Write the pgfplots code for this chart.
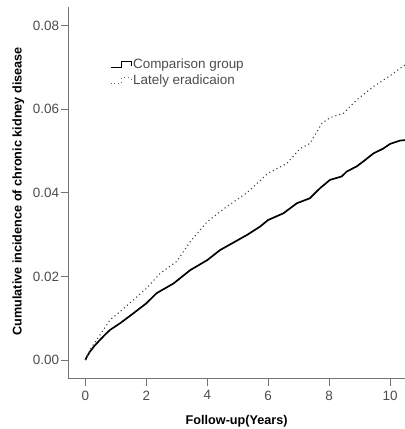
\documentclass[border=0pt]{standalone}
\usepackage{fontspec}
\setmainfont{Liberation Sans}
\usepackage{pgfplots}
\pgfplotsset{compat=1.18}
\definecolor{axgray}{gray}{0.45}
\definecolor{txtgray}{gray}{0.3}
\begin{document}
\begin{tikzpicture}
\useasboundingbox (-68.3bp,-51bp) rectangle (336.7bp,378bp);
\begin{axis}[
  scale only axis,
  width=336.7bp, height=371bp,
  xmin=-0.56, xmax=10.49,
  ymin=-0.0043, ymax=0.08445,
  axis x line*=bottom, axis y line*=left,
  axis line style={axgray, line width=0.8pt},
  xtick={0,2,4,6,8,10},
  ytick={0,0.02,0.04,0.06,0.08},
  scaled y ticks=false,
  yticklabel style={/pgf/number format/fixed, /pgf/number format/fixed zerofill, /pgf/number format/precision=2},
  /pgf/number format/assume math mode=true,
  tick align=outside,
  major tick length=7.5bp,
  tick style={axgray, line width=0.8pt},
  ticklabel style={font=\fontsize{13.5}{14}\selectfont, text=txtgray},
  xticklabel style={inner sep=0pt, yshift=-5bp},
  yticklabel style={inner sep=0pt, xshift=-1.5bp},
  xlabel={Follow-up(Years)},
  ylabel={Cumulative incidence of chronic kidney disease},
  xlabel style={font=\bfseries\fontsize{12.7}{13}\selectfont, at={(axis description cs:0.5,0)}, anchor=center, yshift=-43.5bp},
  ylabel style={font=\bfseries\fontsize{12.7}{13}\selectfont, at={(axis description cs:0,0.503)}, anchor=center, yshift=50bp},
  clip=false,
  legend style={at={(rel axis cs:0.123,0.863)}, anchor=north west, draw=none, fill=none,
    font=\fontsize{13.5}{14}\selectfont, text=txtgray, inner sep=0pt, row sep=3bp,
    nodes={inner sep=1pt}},
  legend cell align=left,
]
\addplot[black, line width=1.7pt,
  legend image code/.code={\draw[black, line width=1.2pt] (0bp,-3bp) -- (11bp,-3bp) -- (11bp,3bp) -- (21bp,3bp) -- (21bp,-1bp);}]
coordinates {
(0,0) (0.05,0.0008) (0.15,0.002) (0.3,0.0034) (0.48,0.0048) (0.65,0.0061) (0.81,0.0072) (1.14,0.0088) (1.58,0.0112)
(2.0,0.01356) (2.34,0.016) (2.89,0.0183) (3.44,0.0215) (4.0,0.0239) (4.42,0.0263)
(4.86,0.0281) (5.3,0.0299) (5.73,0.0319) (6.0,0.0335) (6.5,0.0351) (6.94,0.0375)
(7.37,0.0387) (7.7,0.0411) (8.03,0.0431) (8.41,0.0439) (8.58,0.0451) (8.9,0.0463)
(9.12,0.0475) (9.45,0.0494) (9.78,0.0506) (10.0,0.0517) (10.33,0.0525) (10.49,0.0526)
};
\addlegendentry{Comparison group}
\addplot[black!75, line width=1.1pt, dash pattern=on 1.1pt off 3pt,
  legend image code/.code={\draw[black!60, line width=1pt, dash pattern=on 1pt off 3pt] (0bp,-3bp) -- (11bp,-3bp) -- (11bp,3bp) -- (21bp,3bp) -- (21bp,-1bp);}]
coordinates {
(0,0) (0.2,0.003) (0.5,0.0062) (0.81,0.0096) (1.14,0.0116) (1.58,0.0144) (2.0,0.0171)
(2.45,0.0207) (3.0,0.0236) (3.44,0.0283) (4.0,0.0331) (4.64,0.0367) (5.3,0.040)
(6.0,0.0447) (6.61,0.047) (7.05,0.0506) (7.37,0.0518) (7.76,0.0566) (8.03,0.058)
(8.47,0.059) (8.9,0.0622) (9.45,0.0654) (10.0,0.068) (10.49,0.0706)
};
\addlegendentry{Lately eradicaion}
\end{axis}
\end{tikzpicture}
\end{document}
